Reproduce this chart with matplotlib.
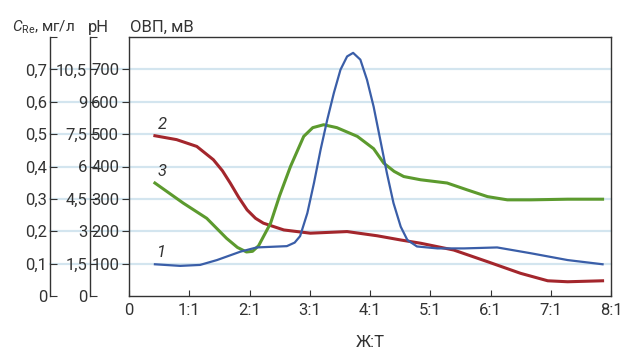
import matplotlib
matplotlib.use("Agg")
import matplotlib.pyplot as plt
from matplotlib.ticker import FixedLocator, FixedFormatter

plt.rcParams['font.family'] = ['Roboto', 'DejaVu Sans']
plt.rcParams['mathtext.fontset'] = 'custom'
plt.rcParams['mathtext.rm'] = 'Roboto'
plt.rcParams['mathtext.it'] = 'Roboto:italic'

# ---- data (x = Ж:Т ratio, y = ОВП, мВ scale) ----
x_ticks = [0, 1, 2, 3, 4, 5, 6, 7, 8]
x_ticklabels = ['0', '1:1', '2:1', '3:1', '4:1', '5:1', '6:1', '7:1', '8:1']

orp_ticks = [100, 200, 300, 400, 500, 600, 700]
ph_ticks = [0, 1.5, 3, 4.5, 6, 7.5, 9, 10.5, 12]
ph_labels = ['0', '1,5', '3', '4,5', '6', '7,5', '9', '10,5', '']
cre_ticks = [0, 0.1, 0.2, 0.3, 0.4, 0.5, 0.6, 0.7, 0.8]
cre_labels = ['0', '0,1', '0,2', '0,3', '0,4', '0,5', '0,6', '0,7', '']

# curve 1 (blue)
x1 = [0.43, 0.85, 1.18, 1.46, 1.85, 2.12, 2.62, 2.75, 2.84, 2.96, 3.07, 3.18,
      3.29, 3.40, 3.51, 3.62, 3.72, 3.84, 3.95, 4.06, 4.17, 4.28, 4.39, 4.51,
      4.62, 4.78, 5.12, 5.56, 6.11, 6.67, 7.28, 7.86]
y1 = [98, 93, 96, 111, 137, 150, 154, 165, 185, 256, 349, 452,
      544, 627, 699, 740, 751, 730, 668, 585, 483, 380, 287, 214,
      173, 153, 147, 147, 150, 132, 111, 98]
# curve 2 (red)
x2 = [0.43, 0.79, 1.125, 1.40, 1.55, 1.68, 1.82, 1.96, 2.10, 2.23, 2.57, 3.01,
      3.62, 4.12, 4.51, 4.84, 5.39, 5.95, 6.50, 6.95, 7.28, 7.86]
y2 = [495, 483, 462, 421, 387, 349, 305, 266, 240, 225, 204, 194,
      199, 186, 173, 163, 142, 106, 70, 47, 44, 47]
# curve 3 (green)
x3 = [0.43, 0.90, 1.29, 1.62, 1.80, 1.95, 2.05, 2.15, 2.35, 2.50, 2.68, 2.90,
      3.05, 3.23, 3.45, 3.79, 4.06, 4.23, 4.40, 4.56, 4.84, 5.28, 5.61, 5.95,
      6.28, 6.67, 7.28, 7.86]
y3 = [349, 287, 240, 178, 150, 136, 138, 155, 225, 310, 400, 493,
      520, 529, 520, 493, 455, 410, 385, 369, 359, 349, 328, 307,
      297, 297, 299, 299]

W, H = 622, 352
fig = plt.figure(figsize=(W / 100, H / 100), dpi=100)

L, R, T, B = 129, 611, 37, 296
ax = fig.add_axes([L / W, (H - B) / H, (R - L) / W, (B - T) / H])
ax.set_xlim(0, 8)
ax.set_ylim(0, 800)

spine_col = '#333333'
for s in ax.spines.values():
    s.set_color(spine_col)
    s.set_linewidth(1.0)

# gridlines extend across the extra left axes
x_left_frac = (50 - L) / (R - L)
for v in orp_ticks:
    ax.plot([x_left_frac, 1], [v, v], transform=ax.get_yaxis_transform(),
            color='#d3e5ef', lw=1.6, clip_on=False, zorder=0)

ax.plot(x2, y2, color='#a3262c', lw=2.2, zorder=3, solid_joinstyle='round')
ax.plot(x3, y3, color='#5c9a2e', lw=2.2, zorder=3, solid_joinstyle='round')
ax.plot(x1, y1, color='#3a5ea8', lw=1.6, zorder=4, solid_joinstyle='round')

ax.set_xticks(x_ticks)
ax.set_xticklabels(x_ticklabels)
ax.set_yticks(orp_ticks)
ax.tick_params(axis='x', direction='in', length=4, color=spine_col,
               labelsize=12, labelcolor='#333333', pad=5)
ax.tick_params(axis='y', direction='out', length=5, color=spine_col,
               labelsize=12, labelcolor='#333333', pad=2)
ax.set_xlabel('Ж:Т', fontsize=12, color='#333333', labelpad=12)

# curve labels
ax.text(0.47, 110, '1', fontsize=12, style='italic', color='#333333', ha='left', va='bottom')
ax.text(0.47, 508, '2', fontsize=12, style='italic', color='#333333', ha='left', va='bottom')
ax.text(0.47, 362, '3', fontsize=12, style='italic', color='#333333', ha='left', va='bottom')

def side_axis(xpix, lim, ticks, labels):
    a = fig.add_axes([xpix / W, (H - B) / H, 1 / W, (B - T) / H])
    a.patch.set_visible(False)
    for k in ('top', 'right', 'bottom'):
        a.spines[k].set_visible(False)
    a.spines['left'].set_color(spine_col)
    a.spines['left'].set_linewidth(1.0)
    a.set_xticks([])
    a.set_ylim(*lim)
    a.yaxis.set_major_locator(FixedLocator(ticks))
    a.yaxis.set_major_formatter(FixedFormatter(labels))
    a.tick_params(axis='y', direction='in', length=5, color=spine_col,
                  labelsize=12, labelcolor='#333333', pad=2)
    return a

side_axis(90, (0, 12), ph_ticks, ph_labels)
side_axis(50, (0, 0.8), cre_ticks, cre_labels)

# axis titles
fig.text(12 / W, (H - 32) / H, r'$C_{\mathrm{Re}}$, мг/л', fontsize=11, color='#333333',
         ha='left', va='baseline')
fig.text(88 / W, (H - 32) / H, 'pH', fontsize=12, color='#333333', ha='left', va='baseline')
fig.text(130 / W, (H - 32) / H, 'ОВП, мВ', fontsize=12, color='#333333', ha='left', va='baseline')

fig.savefig('out.png', dpi=100)
